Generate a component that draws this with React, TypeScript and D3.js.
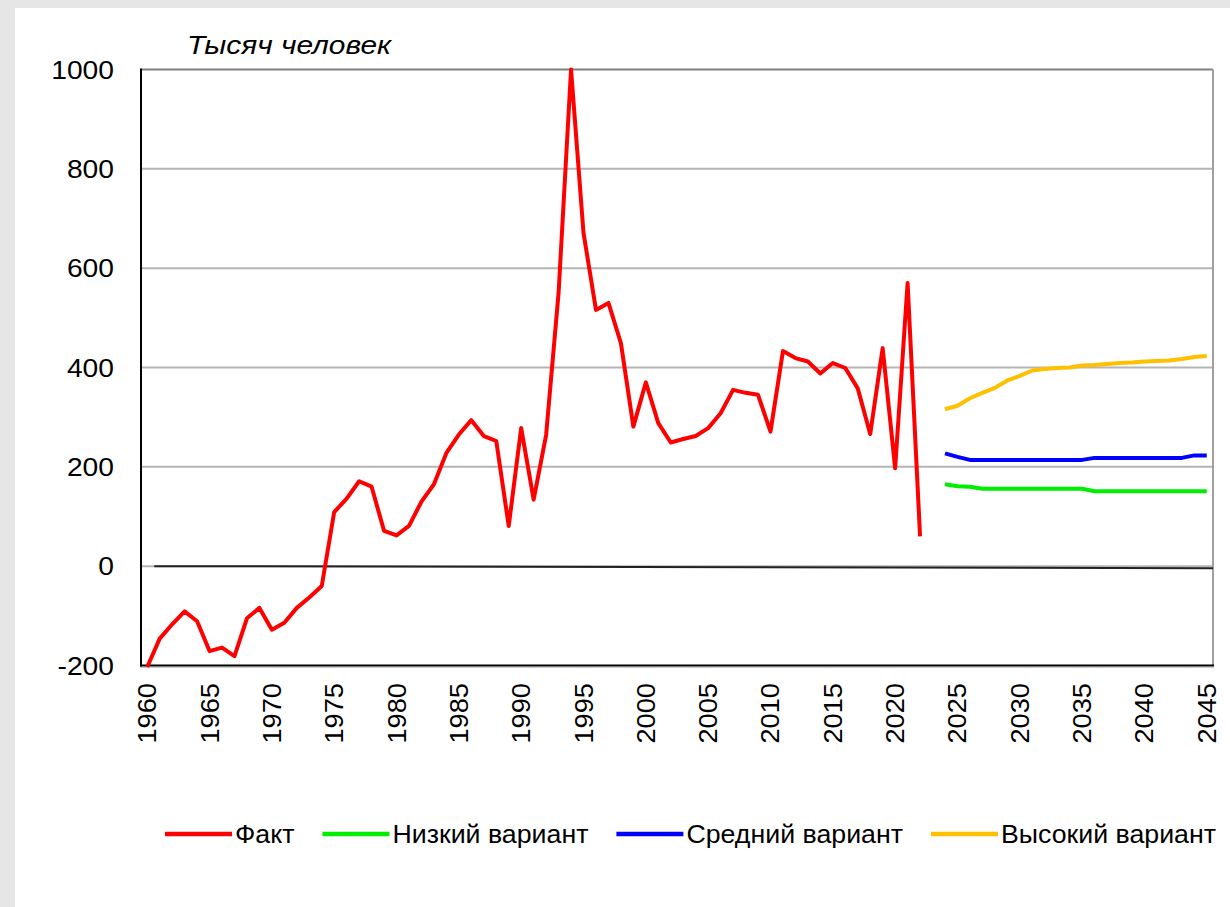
import React, { useEffect, useRef } from 'react';
import * as d3 from 'd3';

// годы факта и прогноза
const factYears = d3.range(1960, 2023);
const factValues = [
  -203, -146, -117, -91, -111, -171, -164, -181, -105, -84,
  -128, -114, -84, -63, -40, 109, 136, 171, 160, 71,
  62, 81, 130, 165, 228, 265, 294, 262, 252, 81,
  278, 134, 264, 550, 1000, 671, 516, 530, 449, 281,
  370, 288, 249, 256, 262, 278, 308, 355, 349, 345,
  271, 433, 419, 412, 388, 409, 399, 358, 266, 439,
  197, 570, 60,
];

const projYears = d3.range(2024, 2046);
const lowValues = [
  165, 161, 160, 156, 156, 156, 156, 156, 156, 156,
  156, 156, 151, 151, 151, 151, 151, 151, 151, 151,
  151, 151,
];
const midValues = [
  227, 220, 214, 214, 214, 214, 214, 214, 214, 214,
  214, 214, 218, 218, 218, 218, 218, 218, 218, 218,
  223, 223,
];
const highValues = [
  316, 323, 338, 349, 359, 374, 383, 394, 397, 399,
  400, 404, 405, 407, 409, 410, 412, 413, 414, 417,
  421, 423,
];

const allYears = d3.range(1960, 2046);
const yTicks = [-200, 0, 200, 400, 600, 800, 1000];

const legendNames = ['Факт', 'Низкий вариант', 'Средний вариант', 'Высокий вариант'];
const colors = ['#ff0000', '#00ee00', '#0000ff', '#ffc000'];

const W = 1230;
const H = 907;
const font = '"Liberation Sans", Arial, sans-serif';

export default function App() {
  const legendRef = useRef<SVGGElement>(null);

  const x = d3.scaleBand<number>().domain(allYears).range([141, 1213]).padding(0);
  const cx = (yr: number) => (x(yr) as number) + x.bandwidth() / 2;
  const y = d3.scaleLinear().domain([-200, 1000]).range([665.5, 69.5]);

  const line = d3
    .line<[number, number]>()
    .x((d) => cx(d[0]))
    .y((d) => y(d[1]));

  const fact = factYears.map((yr, i) => [yr, factValues[i]] as [number, number]);
  const proj = [lowValues, midValues, highValues].map((vals) =>
    projYears.map((yr, i) => [yr, vals[i]] as [number, number])
  );

  // легенда раскладывается по ширине текста (шрифт в оригинале чуть шире)
  useEffect(() => {
    const g = d3.select(legendRef.current);
    g.selectAll('*').remove();
    const sx = 1.07;
    let pos = 165;
    legendNames.forEach((name, i) => {
      g.append('line')
        .attr('x1', pos)
        .attr('x2', pos + 67)
        .attr('y1', 834)
        .attr('y2', 834)
        .attr('stroke', colors[i])
        .attr('stroke-width', 4.5);
      const t = g
        .append('text')
        .attr('transform', `translate(${pos + 70},834) scale(${sx},1)`)
        .attr('dy', '0.35em')
        .attr('font-size', 25)
        .attr('font-family', font)
        .attr('fill', '#000')
        .text(name);
      const len = (t.node() as SVGTextElement).getComputedTextLength() * sx;
      pos += 70 + len + 28;
    });
  }, []);

  return (
    <div style={{ position: 'absolute', left: 0, top: 0 }}>
      <svg width={W} height={H} style={{ display: 'block' }}>
        <rect x={0} y={0} width={W} height={H} fill="#e6e6e6" />
        <rect x={15} y={8} width={W - 15} height={H - 8} fill="#ffffff" />

        {/* сетка */}
        {yTicks
          .filter((t) => t > -200)
          .map((t) => (
            <line
              key={t}
              x1={141}
              x2={1213}
              y1={y(t)}
              y2={y(t)}
              stroke={t === 1000 ? '#808080' : '#b4b4b4'}
              strokeWidth={2}
            />
          ))}
        <line x1={1213} x2={1213} y1={y(1000)} y2={y(-200)} stroke="#a0a0a0" strokeWidth={2} />

        {/* нулевая линия */}
        <line
          x1={cx(1960) + 7}
          x2={1213}
          y1={y(0)}
          y2={y(0) + 2}
          stroke="#222"
          strokeWidth={2}
        />

        {/* оси */}
        <line x1={141} x2={141} y1={y(1000) - 1} y2={y(-200) + 1} stroke="#000" strokeWidth={2} />
        <line x1={140} x2={1214} y1={y(-200)} y2={y(-200)} stroke="#000" strokeWidth={2} />
        <line x1={140} x2={1214} y1={y(-200) + 2} y2={y(-200) + 2} stroke="#c8c8c8" strokeWidth={1} />

        {/* подписи оси Y */}
        {yTicks.map((t) => (
          <text
            key={t}
            transform={`translate(114,${y(t)}) scale(1.13,1)`}
            dy="0.36em"
            textAnchor="end"
            fontSize={25}
            fontFamily={font}
            fill="#000"
          >
            {t}
          </text>
        ))}

        {/* подписи оси X */}
        {allYears
          .filter((yr) => yr % 5 === 0)
          .map((yr) => (
            <text
              key={yr}
              transform={`translate(${cx(yr)},683) rotate(-90) scale(1.09,1)`}
              dy="0.36em"
              textAnchor="end"
              fontSize={25}
              fontFamily={font}
              fill="#000"
            >
              {yr}
            </text>
          ))}

        <text
          transform="translate(187,54) scale(1.15,1)"
          fontSize={26}
          fontStyle="italic"
          fontFamily={font}
          fill="#000"
        >
          Тысяч человек
        </text>

        {/* серии */}
        <path d={line(fact) || ''} fill="none" stroke={colors[0]} strokeWidth={4} strokeLinejoin="round" />
        {proj.map((p, i) => (
          <path
            key={i}
            d={line(p) || ''}
            fill="none"
            stroke={colors[i + 1]}
            strokeWidth={4}
            strokeLinejoin="round"
          />
        ))}

        <g ref={legendRef} />
      </svg>
    </div>
  );
}
